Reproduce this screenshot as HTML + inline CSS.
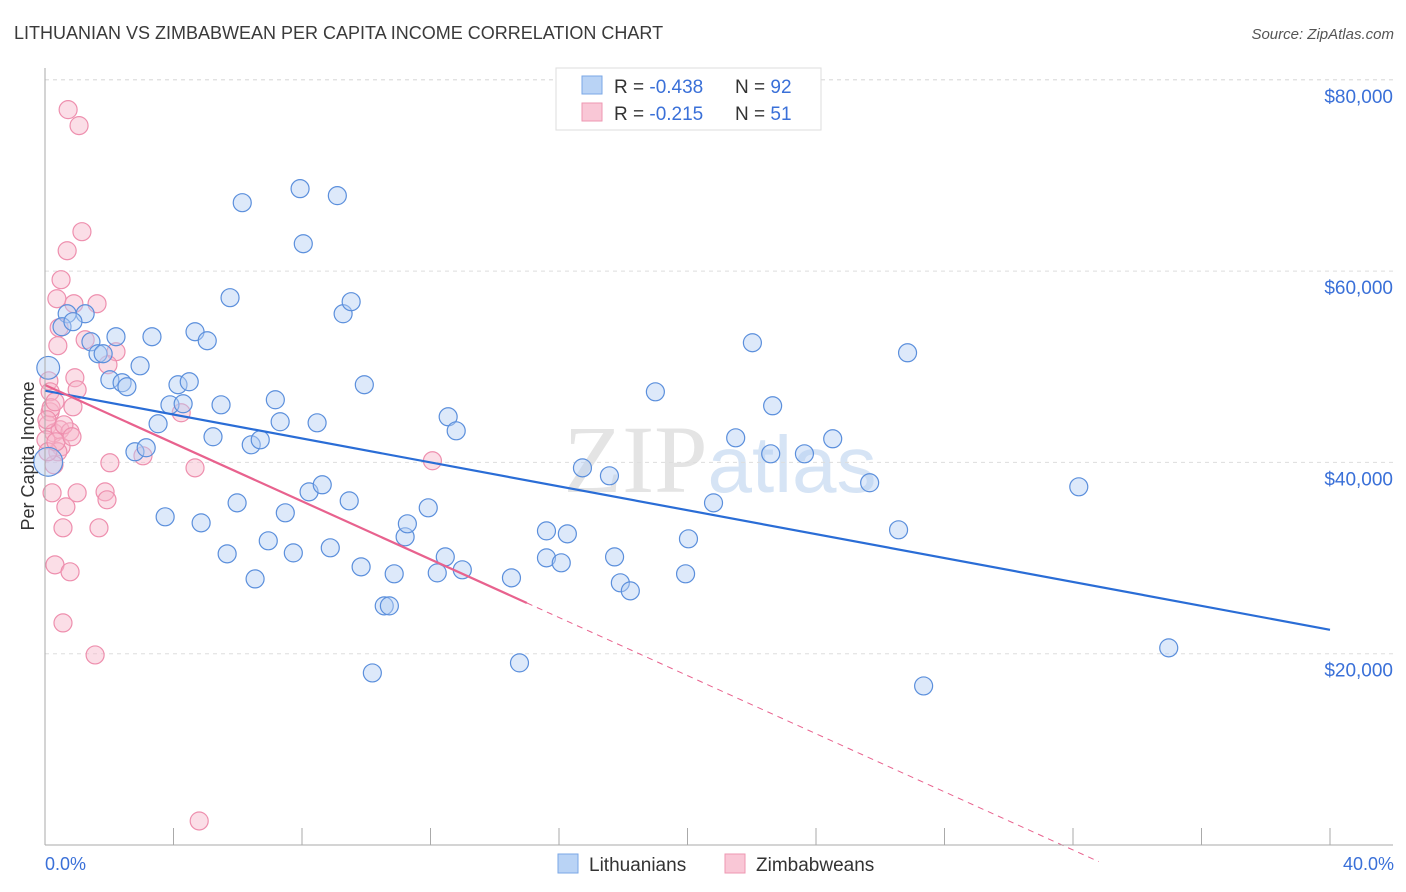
<!DOCTYPE html>
<html><head><meta charset="utf-8">
<style>
body{margin:0;background:#fff;font-family:"Liberation Sans",sans-serif;}
#wrap{position:relative;width:1406px;height:892px;overflow:hidden;}
</style></head>
<body><div id="wrap">
<svg id="svg" width="1406" height="892" xmlns="http://www.w3.org/2000/svg">
<text x="14" y="39" font-size="18" fill="#3a3a3a">LITHUANIAN VS ZIMBABWEAN PER CAPITA INCOME CORRELATION CHART</text>
<text x="1394" y="39" font-size="15" fill="#555" font-style="italic" text-anchor="end">Source: ZipAtlas.com</text>
<text x="720" y="492" font-size="96" fill="#e4e4e4" text-anchor="middle" font-family="Liberation Serif, serif">ZIP<tspan fill="#d6e4f5" font-family="Liberation Sans, sans-serif" font-size="80">atlas</tspan></text>
<g id="grid"></g><g id="pts"></g><g id="lines"></g><g id="axes"></g>
<text transform="translate(34,456) rotate(-90)" font-size="18" fill="#333" text-anchor="middle">Per Capita Income</text>
<text x="45" y="870" font-size="18" fill="#3a70d8">0.0%</text>
<text x="1394" y="870" font-size="18" fill="#3a70d8" text-anchor="end">40.0%</text>
<g>
<rect x="556" y="68" width="265" height="62" fill="#fff" stroke="#ddd"/>
<rect x="582" y="76" width="20" height="18" fill="#b9d3f5" stroke="#7aa7e6"/>
<rect x="582" y="103" width="20" height="18" fill="#f9c7d6" stroke="#ee97b2"/>
<text x="614" y="93" font-size="19" fill="#333">R = <tspan fill="#3a70d8">-0.438</tspan><tspan x="735">N = </tspan><tspan fill="#3a70d8">92</tspan></text>
<text x="614" y="120" font-size="19" fill="#333">R = <tspan fill="#3a70d8"> -0.215</tspan><tspan x="735">N = </tspan><tspan fill="#3a70d8"> 51</tspan></text>
</g>
<g>
<rect x="558" y="854" width="20" height="19" fill="#b9d3f5" stroke="#7aa7e6"/>
<text x="589" y="871" font-size="19" fill="#333">Lithuanians</text>
<rect x="725" y="854" width="20" height="19" fill="#f9c7d6" stroke="#ee97b2"/>
<text x="756" y="871" font-size="19" fill="#333">Zimbabweans</text>
</g>
</svg></div>
<script>
const yTicks=[20000,40000,60000,80000];
const yTickLabels=["$20,000","$40,000","$60,000","$80,000"];
const xTicks=[0,4,8,12,16,20,24,28,32,36,40];
const blueX=[0.69,1.25,0.53,0.87,1.43,2.21,1.65,1.81,2.96,3.33,2.02,2.40,2.55,4.67,5.05,4.14,4.49,5.76,6.14,7.94,9.10,8.04,9.28,9.53,3.89,4.30,5.48,3.52,2.80,3.15,5.23,6.42,6.70,7.17,7.32,8.47,9.94,12.55,12.80,3.74,4.86,5.67,5.98,6.54,6.95,7.48,7.73,8.22,8.63,8.88,9.47,9.84,10.19,10.56,10.72,10.87,11.21,11.28,11.93,12.21,12.46,12.99,14.52,14.77,15.61,15.61,16.07,16.26,16.73,17.57,17.73,17.91,18.22,19.00,19.94,20.03,20.81,21.50,22.02,22.59,22.65,23.64,24.52,25.67,26.57,26.85,27.35,32.18,34.98,0.1,0.1];
const blueY=[55540,55540,54180,54710,52610,53140,51360,51360,50100,53140,48640,48330,47910,53660,52720,48120,48430,57220,67150,68620,67890,62860,55540,56800,46020,46130,46020,44040,41110,41530,42680,41840,42360,46550,44250,44140,48120,44770,43300,34310,33680,30440,35770,27820,31800,34730,30540,36920,37660,31070,35980,29080,17990,25000,25000,28350,32220,33580,35250,28450,30120,28770,27930,19040,32840,30020,29500,32530,39430,38600,30120,27410,26570,47380,28350,32010,35770,42570,52510,40900,45920,40900,42470,37870,32950,51460,16630,37450,20610,49890,40060];
const blueW=blueX.map((_,i)=>i===89?2.5:(i===90?4:1));
const pinkX=[0.72,1.06,1.15,0.69,0.50,0.37,0.90,1.62,0.44,1.25,0.40,2.21,1.96,0.12,0.93,0.16,1.00,0.87,0.16,0.09,0.28,0.47,0.78,0.50,0.40,2.02,3.05,4.24,4.67,12.06,0.22,1.00,1.87,1.93,0.65,0.56,1.68,0.31,0.78,0.56,1.56,4.80,0.19,0.03,0.28,0.59,0.31,0.09,0.34,0.84,0.06];
const pinkY=[76880,75210,64120,62130,59100,57110,56590,56590,54080,52820,52200,51570,50210,48530,48850,47380,47590,45810,45290,43930,43090,43410,43200,41630,41110,39960,40690,45190,39430,40170,36820,36820,36920,36090,35350,33160,33160,29290,28560,23220,19870,2510,45710,42360,39750,43930,46340,41110,42150,42680,44460];
const blueFit=[47500,-625];
const pinkFit=[48090,-1519];
const pinkSolidEnd=15.0;
const pinkDashEnd=32.8;

const X=v=>45+v*32.125;
const Y=v=>845-v*191.3/20000;
const NS="http://www.w3.org/2000/svg";
function mk(tag,attrs,parent){const e=document.createElementNS(NS,tag);for(const k in attrs)e.setAttribute(k,attrs[k]);parent.appendChild(e);return e;}
const grid=document.getElementById('grid'),axes=document.getElementById('axes'),pts=document.getElementById('pts'),lines=document.getElementById('lines');
yTicks.forEach((t,i)=>{
 const l=mk('line',{x1:45,x2:1393,y1:Y(t),y2:Y(t),stroke:'#ddd','stroke-dasharray':'4,4'},grid);
 
 
 const tx=mk('text',{x:1393,y:Y(t)+23,'font-size':19,fill:'#3a70d8','text-anchor':'end'},grid);
 tx.textContent=yTickLabels[i];
 
 
});
const topL=mk('line',{x1:45,x2:1393,y1:Y(80000),y2:Y(80000),stroke:'#ddd','stroke-dasharray':'4,4'},grid);
mk('line',{x1:45,x2:45,y1:68,y2:845,stroke:'#aaa'},axes);
const xa=mk('line',{x1:45,x2:1393,y1:845,y2:845,stroke:'#aaa'},axes);


xTicks.forEach(t=>{
 const tk=mk('line',{x1:X(t),x2:X(t),y1:828,y2:845,stroke:'#aaa'},axes);
 
 
});
function dots(xs,ys,ws,fill,stroke,name){
 xs.forEach((x,i)=>{
  const w=ws?ws[i]:1;
  const c=mk('circle',{cx:X(x),cy:Y(ys[i]),r:9*Math.sqrt(w)*(w>1?0.8:1),fill:fill,'fill-opacity':0.45,stroke:stroke,'stroke-width':1.2},pts);
  
  
 });
}
dots(pinkX,pinkY,null,'#f7b6ca','#ee8fae','point-zimbabwean');
dots(blueX,blueY,blueW,'#b3cff3','#5b8fdc','point-lithuanian');
const bl=mk('line',{x1:X(0),y1:Y(blueFit[0]),x2:X(40),y2:Y(blueFit[0]+blueFit[1]*40),stroke:'#2a6dd6','stroke-width':2.2},lines);


const pl=mk('line',{x1:X(0),y1:Y(pinkFit[0]),x2:X(pinkSolidEnd),y2:Y(pinkFit[0]+pinkFit[1]*pinkSolidEnd),stroke:'#e8628e','stroke-width':2.2},lines);


const pd=mk('line',{x1:X(pinkSolidEnd),y1:Y(pinkFit[0]+pinkFit[1]*pinkSolidEnd),x2:X(pinkDashEnd),y2:Y(pinkFit[0]+pinkFit[1]*pinkDashEnd),stroke:'#e8628e','stroke-width':1,'stroke-dasharray':'6,5'},lines);


</script>
</body></html>
